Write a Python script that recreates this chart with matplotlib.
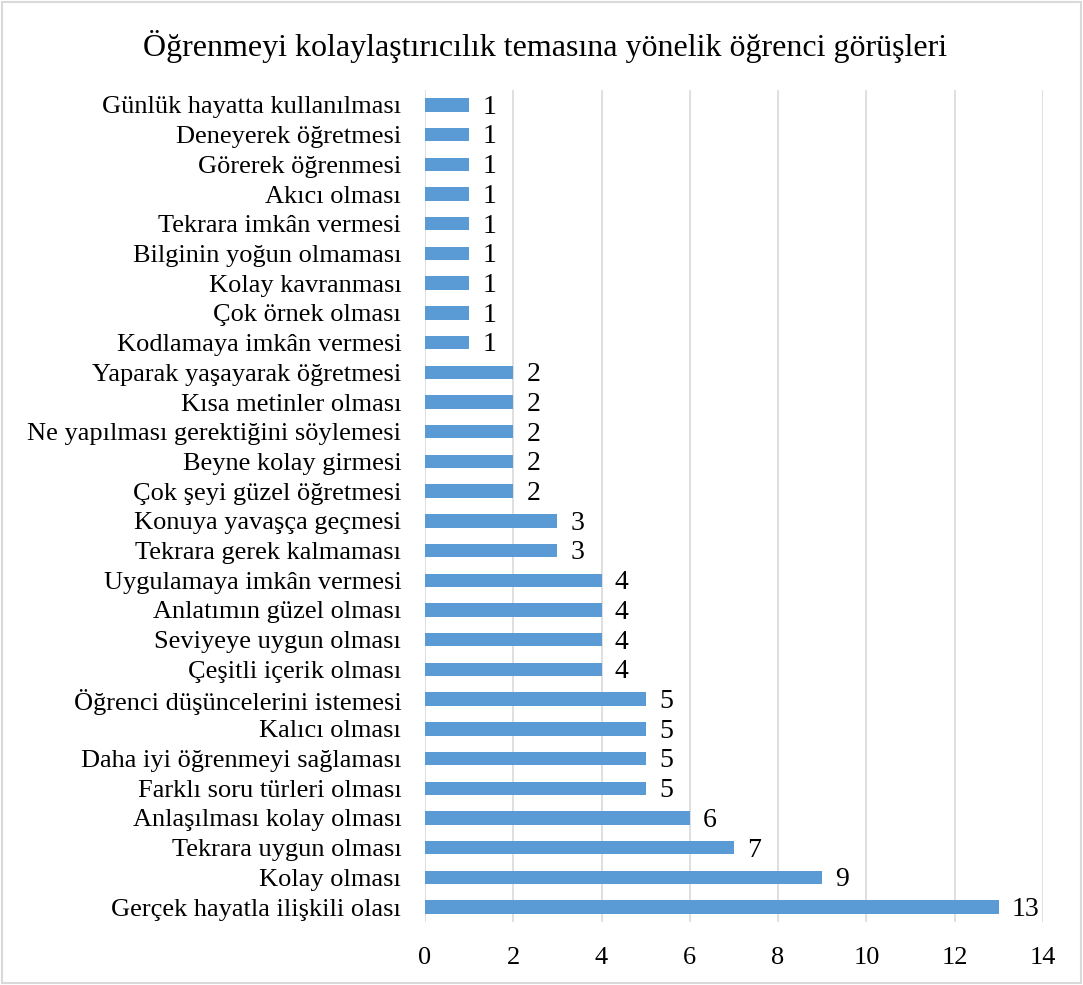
import matplotlib.pyplot as plt
from matplotlib.patches import Rectangle

plt.rcParams['font.family'] = ['Liberation Serif', 'DejaVu Serif']

# categories listed from top to bottom as in the chart
categories = [
    'Günlük hayatta kullanılması', 'Deneyerek öğretmesi', 'Görerek öğrenmesi',
    'Akıcı olması', 'Tekrara imkân vermesi', 'Bilginin yoğun olmaması',
    'Kolay kavranması', 'Çok örnek olması', 'Kodlamaya imkân vermesi',
    'Yaparak yaşayarak öğretmesi', 'Kısa metinler olması',
    'Ne yapılması gerektiğini söylemesi', 'Beyne kolay girmesi',
    'Çok şeyi güzel öğretmesi', 'Konuya yavaşça geçmesi',
    'Tekrara gerek kalmaması', 'Uygulamaya imkân vermesi',
    'Anlatımın güzel olması', 'Seviyeye uygun olması', 'Çeşitli içerik olması',
    'Öğrenci düşüncelerini istemesi', 'Kalıcı olması',
    'Daha iyi öğrenmeyi sağlaması', 'Farklı soru türleri olması',
    'Anlaşılması kolay olması', 'Tekrara uygun olması', 'Kolay olması',
    'Gerçek hayatla ilişkili olası',
]
counts = [1, 1, 1, 1, 1, 1, 1, 1, 1, 2, 2, 2, 2, 2, 3, 3, 4, 4, 4, 4,
          5, 5, 5, 5, 6, 7, 9, 13]
x_ticks = [0, 2, 4, 6, 8, 10, 12, 14]

fig = plt.figure(figsize=(10.83, 9.85), dpi=100)
ax = fig.add_axes([0.3924, 0.064, 0.5706, 0.8446])

y = list(range(len(categories)))
ax.barh(y, counts, height=0.45, color='#5B9BD5', zorder=3)
ax.set_ylim(len(categories) - 0.5, -0.5)
ax.set_xlim(0, 14)
ax.set_xticks(x_ticks)
ax.set_yticks(y)
ax.set_yticklabels(categories, fontsize=19)
ax.tick_params(axis='x', labelsize=19, length=0, pad=18)
ax.tick_params(axis='y', length=0, pad=17)
ax.grid(axis='x', color='#D9D9D9', linewidth=1.2, zorder=0)
for s in ax.spines.values():
    s.set_visible(False)

for i, v in enumerate(counts):
    ax.text(v + 0.3, i + 0.08, str(v), va='center', ha='left', fontsize=20)

fig.text(0.503, 0.953, 'Öğrenmeyi kolaylaştırıcılık temasına yönelik öğrenci görüşleri',
         ha='center', va='center', fontsize=23)

fig.patches.append(Rectangle((0.002, 0.002), 0.996, 0.996, transform=fig.transFigure,
                             fill=False, edgecolor='#D9D9D9', linewidth=1.5))

fig.savefig('out.png', dpi=100)
